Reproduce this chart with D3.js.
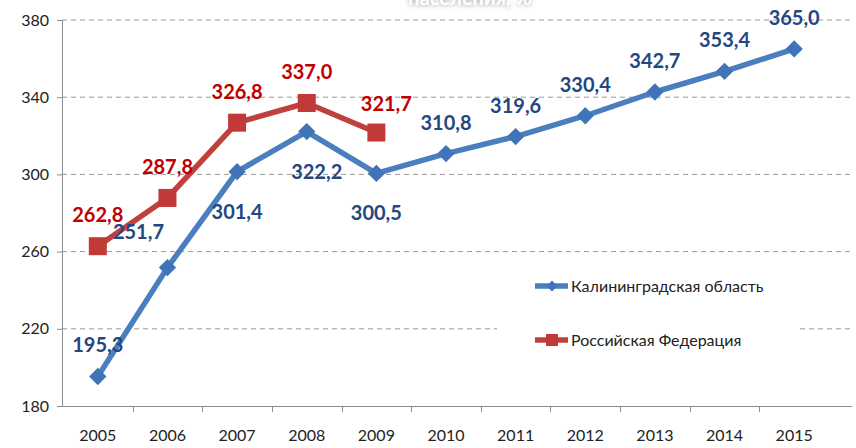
<!DOCTYPE html>
<html><head><meta charset="utf-8">
<script src="https://cdn.jsdelivr.net/npm/d3@7"></script>
<style>body{margin:0;background:#fff}svg{display:block}</style>
</head><body>
<svg id="c" width="856" height="448"></svg>
<script>
const years = ["2005","2006","2007","2008","2009","2010","2011","2012","2013","2014","2015"];
const kaliningrad = [195.3,251.7,301.4,322.2,300.5,310.8,319.6,330.4,342.7,353.4,365.0];
const russia = [262.8,287.8,326.8,337.0,321.7];
const yTicks = [180,220,260,300,340,380];
const seriesNames = ["Калининградская область","Российская Федерация"];
const kalPlace = ["above","aboveLeft","below","belowRight","below","above","above","above","above","above","above"];
const rusPlace = ["above","above","above","above","aboveRight"];

const svg = d3.select("#c");
const x = d3.scaleBand().domain(years).range([63, 829]);
const y = d3.scaleLinear().domain([180, 380]).range([406, 20]);
const cx = d => x(d) + x.bandwidth()/2;
const fmt = v => v.toFixed(1).replace(".", ",");

// faint title (cut off at top, as in the reference)
const defs = svg.append("defs");
const f = defs.append("filter").attr("id","sh").attr("x","-20%").attr("y","-50%").attr("width","140%").attr("height","200%");
f.append("feDropShadow").attr("dx",0).attr("dy",1).attr("stdDeviation",2).attr("flood-color","#999").attr("flood-opacity",0.8);
svg.append("text").attr("x",470).attr("y",5).attr("text-anchor","middle")
  .attr("font-family","Lato, sans-serif").attr("font-weight","bold").attr("font-size",20)
  .attr("fill","#fff").attr("filter","url(#sh)").text("населения, %");

// grid
svg.append("g").selectAll("line").data(yTicks.filter(t=>t>180)).join("line")
  .attr("x1",62).attr("x2",852).attr("y1",d=>y(d)).attr("y2",d=>y(d))
  .attr("stroke","#9a9a9a").attr("stroke-width",1).attr("stroke-dasharray","5,4");

// y axis
const ya = svg.append("g").attr("transform","translate(62,0)")
  .call(d3.axisLeft(y).tickValues(yTicks).tickSize(5).tickPadding(8).tickFormat(d3.format("d")));
ya.select(".domain").attr("stroke","#8c8c8c");
ya.selectAll(".tick line").attr("stroke","#8c8c8c");
ya.selectAll("text").attr("font-family","Lato, sans-serif").attr("font-size",16).attr("fill","#222");

// x axis
const xa = svg.append("g").attr("transform","translate(0,406)")
  .call(d3.axisBottom(x).tickSize(0).tickPadding(24));
xa.select(".domain").remove();
svg.append("line").attr("x1",62).attr("x2",852).attr("y1",406.5).attr("y2",406.5).attr("stroke","#8c8c8c");
svg.append("g").selectAll("line").data(years.slice(1)).join("line")
  .attr("x1",d=>Math.round(x(d))+0.5).attr("x2",d=>Math.round(x(d))+0.5).attr("y1",406).attr("y2",412)
  .attr("stroke","#8c8c8c");
xa.selectAll("text").attr("font-family","Lato, sans-serif").attr("font-size",16).attr("fill","#222");

// legend background
svg.append("rect").attr("x",497).attr("y",262).attr("width",303).attr("height",100).attr("fill","#fff");

const line = d3.line().x(d=>cx(d.year)).y(d=>y(d.v));
const kalData = years.map((yr,i)=>({year:yr,v:kaliningrad[i]}));
const rusData = russia.map((v,i)=>({year:years[i],v}));

const blue = "#4a7ebf", red = "#c0403d";
svg.append("path").datum(kalData).attr("d",line).attr("fill","none").attr("stroke",blue).attr("stroke-width",5.5).attr("stroke-linejoin","round");
svg.append("path").datum(rusData).attr("d",line).attr("fill","none").attr("stroke",red).attr("stroke-width",5.5).attr("stroke-linejoin","round");

// markers
svg.append("g").selectAll("path").data(kalData).join("path")
  .attr("transform",d=>`translate(${cx(d.year)},${y(d.v)}) rotate(45)`)
  .attr("d",d3.symbol().type(d3.symbolSquare).size(150)).attr("fill","#3f74b8");
svg.append("g").selectAll("rect").data(rusData).join("rect")
  .attr("x",d=>cx(d.year)-9).attr("y",d=>y(d.v)-9).attr("width",18).attr("height",18)
  .attr("fill","#c23a37");

// labels
const off = {above:[0,-31],aboveLeft:[-29,-36],below:[0,40],belowRight:[10,40],aboveRight:[10,-29]};
function labels(data, place, color){
  svg.append("g").selectAll("text").data(data).join("text")
    .attr("x",(d,i)=>cx(d.year)+off[place[i]][0])
    .attr("y",(d,i)=>y(d.v)+off[place[i]][1])
    .attr("dy","0.35em").attr("text-anchor","middle")
    .attr("font-family","Lato, sans-serif").attr("font-weight","bold").attr("font-size",20)
    .attr("fill",color).text(d=>fmt(d.v));
}
labels(kalData,kalPlace,"#25477f");
labels(rusData,rusPlace,"#c00000");

// legend
const lg = svg.append("g");
[[blue,286],[red,340]].forEach(([c,ly],i)=>{
  lg.append("line").attr("x1",535).attr("x2",568).attr("y1",ly).attr("y2",ly).attr("stroke",c).attr("stroke-width",5.5);
  if(i===0) lg.append("path").attr("transform",`translate(552,${ly}) rotate(45)`).attr("d",d3.symbol().type(d3.symbolSquare).size(60)).attr("fill","#3f74b8");
  else lg.append("rect").attr("x",546).attr("y",ly-6).attr("width",12).attr("height",12).attr("fill","#c23a37");
  lg.append("text").attr("x",571).attr("y",ly).attr("dy","0.35em")
    .attr("font-family","Lato, sans-serif").attr("font-size",16).attr("fill","#222").text(seriesNames[i]);
});
</script>
</body></html>
